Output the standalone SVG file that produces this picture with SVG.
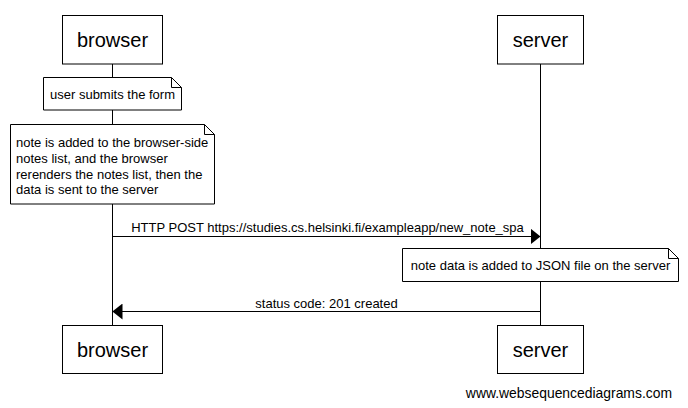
<svg xmlns="http://www.w3.org/2000/svg" width="688" height="408" viewBox="0 0 688 408">
<style>
.box{fill:#fff;stroke:#000;stroke-width:1}
.life{stroke:#000;stroke-width:1;fill:none}
.pl{font-family:"Liberation Sans",Arial,sans-serif;font-size:20px;fill:#000;text-anchor:middle}
.nt{font-family:"Liberation Sans",Arial,sans-serif;font-size:13px;fill:#000}
.msg{stroke:#000;stroke-width:1;fill:none}
</style>
<defs>
<marker id="ah" viewBox="0 0 10 16" refX="10" refY="8" markerWidth="10" markerHeight="16" markerUnits="userSpaceOnUse" orient="auto">
<path d="M0,0 L10,8 L0,16 Z" fill="#000"/>
</marker>
</defs>
<rect width="688" height="408" fill="#fff"/>
<g id="lifelines">
<line class="life" x1="112.5" y1="64" x2="112.5" y2="325"/>
<line class="life" x1="540.5" y1="64" x2="540.5" y2="325"/>
</g>
<g id="browser-top">
<rect class="box" x="62.5" y="15.5" width="100" height="48.5"/>
<text class="pl" x="112.5" y="46.5">browser</text>
</g>
<g id="server-top">
<rect class="box" x="497.5" y="15.5" width="86" height="48.5"/>
<text class="pl" x="540.5" y="46.5">server</text>
</g>
<g id="note-submit">
<path class="box" d="M43.5,77.5 H171.5 L181.5,87.5 V110 H43.5 Z"/>
<path class="life" d="M171.5,77.5 V87.5 H181.5"/>
<text class="nt" x="112.5" y="99" text-anchor="middle">user submits the form</text>
</g>
<g id="note-render">
<path class="box" d="M10.5,124.5 H204.5 L214.5,134.5 V204 H10.5 Z"/>
<path class="life" d="M204.5,124.5 V134.5 H214.5"/>
<text class="nt" x="16" y="146.5">note is added to the browser-side</text>
<text class="nt" x="16" y="162.5">notes list, and the browser</text>
<text class="nt" x="16" y="178.5">rerenders the notes list, then the</text>
<text class="nt" x="16" y="194">data is sent to the server</text>
</g>
<g id="note-json">
<path class="box" d="M402.5,248.5 H668.5 L678.5,258.5 V281.5 H402.5 Z"/>
<path class="life" d="M668.5,248.5 V258.5 H678.5"/>
<text class="nt" x="540.5" y="270" text-anchor="middle">note data is added to JSON file on the server</text>
</g>
<g id="connectors">
<line class="msg" x1="112.5" y1="236.5" x2="540.5" y2="236.5" marker-end="url(#ah)"/>
<text class="nt" x="327.5" y="232" text-anchor="middle" font-size="13.2">HTTP POST https://studies.cs.helsinki.fi/exampleapp/new_note_spa</text>
<line class="msg" x1="540.5" y1="311.5" x2="112.5" y2="311.5" marker-end="url(#ah)"/>
<text class="nt" x="326.5" y="308" text-anchor="middle">status code: 201 created</text>
</g>
<g id="browser-bottom">
<rect class="box" x="62.5" y="325.5" width="100" height="48"/>
<text class="pl" x="112.5" y="356.5">browser</text>
</g>
<g id="server-bottom">
<rect class="box" x="497.5" y="325.5" width="86" height="48"/>
<text class="pl" x="540.5" y="356.5">server</text>
</g>
<text x="672" y="398" font-family="Liberation Sans, Arial, sans-serif" font-size="13.9" text-anchor="end" fill="#000">www.websequencediagrams.com</text>
</svg>
